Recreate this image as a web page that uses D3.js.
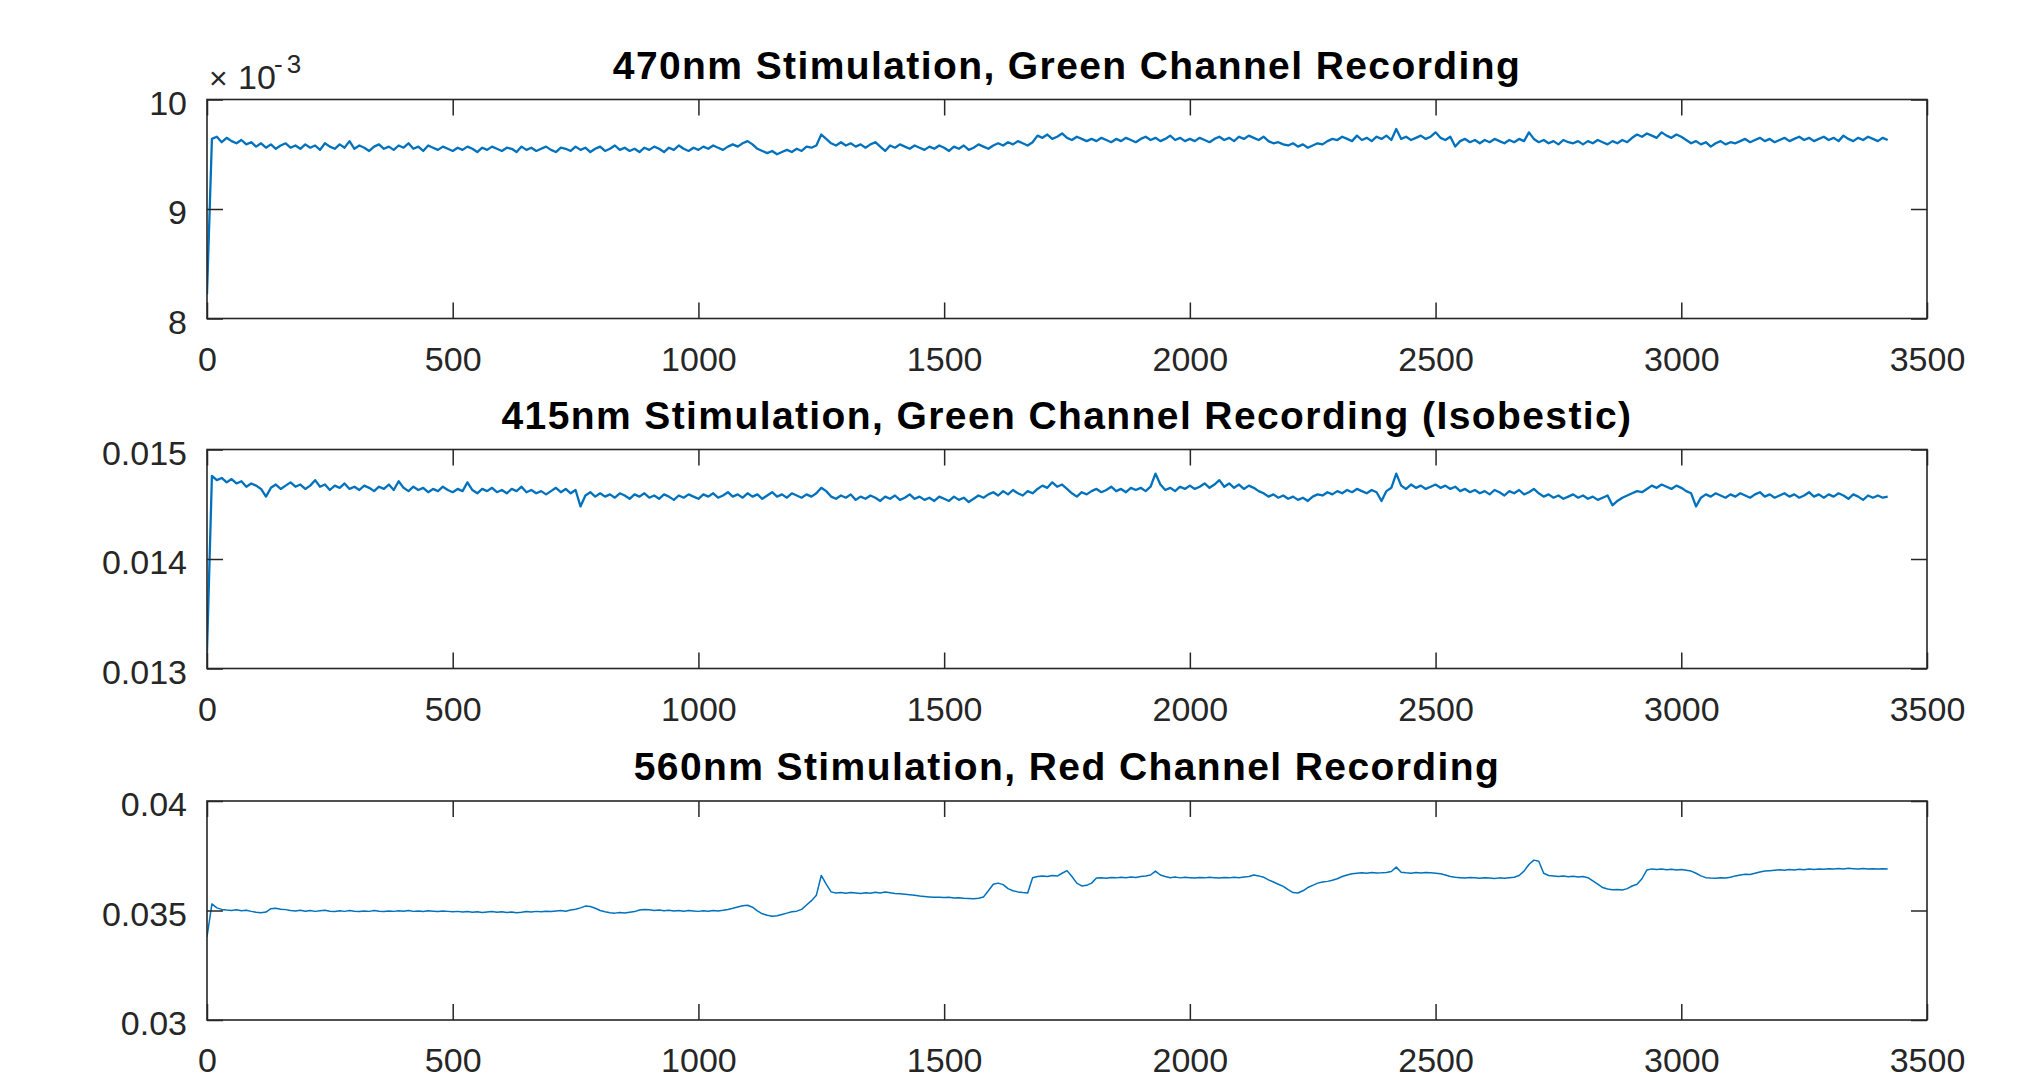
<!DOCTYPE html>
<html>
<head>
<meta charset="utf-8">
<script src="https://cdn.jsdelivr.net/npm/d3@7"></script>
<style>
html, body { margin: 0; padding: 0; background: #ffffff; }
svg { display: block; }
</style>
</head>
<body>
<svg id="chart" width="2040" height="1073"></svg>
<script>
// ---------- data ----------
const titles = [
  "470nm Stimulation, Green Channel Recording",
  "415nm Stimulation, Green Channel Recording (Isobestic)",
  "560nm Stimulation, Red Channel Recording"
];
const xTicks = [0, 500, 1000, 1500, 2000, 2500, 3000, 3500];
const xTickLabels = ["0", "500", "1000", "1500", "2000", "2500", "3000", "3500"];
// y values below are all in units of 10^-3
const yDomain470 = [8, 10];
const yTicks470 = [8, 9, 10];
const yTickLabels470 = ["8", "9", "10"];
const yDomain415 = [13, 15];
const yTicks415 = [13, 14, 15];
const yTickLabels415 = ["0.013", "0.014", "0.015"];
const yDomain560 = [30, 40];
const yTicks560 = [30, 35, 40];
const yTickLabels560 = ["0.03", "0.035", "0.04"];
const exponentLabel = ["\u00d7", "10", "-3"];
const sampleStep = 10; // time between samples

const green470 = [
8.22,9.64,9.66,9.61,9.65,9.62,9.60,9.63,9.59,9.61,
9.57,9.60,9.56,9.59,9.55,9.58,9.60,9.56,9.58,9.55,
9.59,9.56,9.58,9.54,9.60,9.57,9.55,9.59,9.56,9.62,
9.55,9.58,9.56,9.53,9.57,9.59,9.55,9.57,9.54,9.58,
9.56,9.60,9.55,9.57,9.53,9.58,9.56,9.54,9.57,9.55,
9.53,9.56,9.54,9.57,9.55,9.52,9.56,9.54,9.57,9.55,
9.53,9.56,9.55,9.52,9.57,9.54,9.56,9.53,9.55,9.57,
9.54,9.52,9.56,9.55,9.53,9.57,9.54,9.56,9.52,9.55,
9.57,9.53,9.55,9.58,9.54,9.56,9.53,9.55,9.52,9.56,
9.54,9.57,9.55,9.52,9.56,9.54,9.58,9.55,9.53,9.56,
9.54,9.57,9.55,9.58,9.56,9.54,9.57,9.59,9.57,9.60,
9.62,9.59,9.55,9.53,9.51,9.53,9.50,9.52,9.54,9.52,
9.55,9.53,9.57,9.56,9.58,9.68,9.64,9.60,9.58,9.61,
9.58,9.60,9.57,9.59,9.56,9.59,9.61,9.57,9.53,9.58,
9.56,9.59,9.57,9.55,9.58,9.56,9.54,9.57,9.55,9.58,
9.56,9.53,9.57,9.55,9.58,9.54,9.56,9.59,9.57,9.55,
9.58,9.60,9.58,9.61,9.59,9.62,9.60,9.58,9.61,9.67,
9.65,9.68,9.64,9.66,9.69,9.65,9.63,9.66,9.64,9.62,
9.64,9.62,9.65,9.63,9.61,9.64,9.62,9.65,9.63,9.61,
9.64,9.66,9.63,9.65,9.62,9.64,9.67,9.63,9.65,9.62,
9.64,9.62,9.65,9.63,9.61,9.64,9.66,9.63,9.65,9.62,
9.66,9.64,9.67,9.65,9.63,9.66,9.62,9.60,9.61,9.59,
9.58,9.60,9.57,9.59,9.56,9.58,9.60,9.59,9.62,9.64,
9.63,9.66,9.64,9.62,9.67,9.63,9.65,9.62,9.66,9.64,
9.67,9.63,9.73,9.64,9.66,9.63,9.65,9.67,9.64,9.66,
9.70,9.65,9.63,9.66,9.57,9.62,9.64,9.61,9.63,9.60,
9.63,9.61,9.64,9.62,9.60,9.63,9.61,9.64,9.62,9.70,
9.64,9.61,9.63,9.60,9.62,9.59,9.63,9.61,9.60,9.62,
9.59,9.62,9.60,9.63,9.61,9.59,9.62,9.60,9.63,9.61,
9.65,9.68,9.66,9.69,9.67,9.65,9.70,9.67,9.65,9.68,
9.66,9.63,9.60,9.62,9.59,9.61,9.57,9.60,9.62,9.59,
9.61,9.60,9.62,9.64,9.61,9.63,9.65,9.62,9.64,9.61,
9.63,9.65,9.62,9.64,9.66,9.63,9.65,9.62,9.64,9.66,
9.63,9.65,9.62,9.67,9.64,9.62,9.65,9.63,9.66,9.64,
9.62,9.65,9.63
];

const green415 = [
13.15,14.76,14.72,14.74,14.70,14.73,14.69,14.71,14.66,14.69,
14.67,14.64,14.57,14.65,14.68,14.64,14.67,14.70,14.66,14.68,
14.64,14.67,14.72,14.66,14.68,14.63,14.67,14.65,14.69,14.64,
14.66,14.63,14.67,14.65,14.62,14.66,14.64,14.68,14.63,14.71,
14.65,14.62,14.66,14.63,14.65,14.61,14.64,14.62,14.66,14.63,
14.61,14.64,14.62,14.70,14.63,14.60,14.64,14.62,14.65,14.61,
14.63,14.60,14.64,14.62,14.66,14.61,14.63,14.60,14.62,14.59,
14.62,14.65,14.61,14.64,14.60,14.63,14.48,14.58,14.61,14.57,
14.60,14.57,14.59,14.56,14.60,14.58,14.55,14.59,14.57,14.60,
14.56,14.58,14.55,14.59,14.57,14.54,14.58,14.56,14.59,14.57,
14.55,14.59,14.57,14.60,14.56,14.58,14.61,14.57,14.59,14.56,
14.60,14.57,14.59,14.55,14.58,14.61,14.57,14.59,14.56,14.60,
14.58,14.56,14.59,14.57,14.60,14.65,14.62,14.57,14.55,14.58,
14.56,14.59,14.54,14.57,14.55,14.58,14.56,14.53,14.57,14.55,
14.58,14.54,14.56,14.59,14.55,14.57,14.54,14.56,14.53,14.57,
14.55,14.53,14.57,14.54,14.56,14.52,14.55,14.58,14.56,14.59,
14.61,14.58,14.62,14.59,14.63,14.60,14.58,14.62,14.60,14.64,
14.67,14.65,14.70,14.66,14.68,14.64,14.60,14.57,14.61,14.59,
14.62,14.64,14.61,14.63,14.66,14.62,14.64,14.61,14.65,14.63,
14.65,14.62,14.66,14.78,14.68,14.63,14.65,14.62,14.66,14.64,
14.67,14.64,14.66,14.69,14.65,14.68,14.72,14.66,14.69,14.65,
14.68,14.64,14.67,14.65,14.62,14.60,14.57,14.59,14.56,14.58,
14.55,14.57,14.54,14.56,14.53,14.57,14.59,14.58,14.61,14.59,
14.62,14.60,14.63,14.61,14.64,14.62,14.60,14.63,14.61,14.53,
14.62,14.65,14.78,14.67,14.64,14.68,14.65,14.67,14.64,14.66,
14.68,14.65,14.67,14.64,14.66,14.62,14.64,14.61,14.63,14.60,
14.62,14.59,14.63,14.61,14.58,14.62,14.60,14.63,14.59,14.61,
14.64,14.60,14.57,14.59,14.56,14.58,14.55,14.57,14.59,14.56,
14.58,14.55,14.57,14.54,14.56,14.58,14.49,14.53,14.56,14.58,
14.60,14.62,14.61,14.64,14.67,14.65,14.68,14.66,14.64,14.67,
14.65,14.62,14.60,14.48,14.56,14.59,14.57,14.60,14.58,14.56,
14.59,14.57,14.60,14.58,14.56,14.59,14.61,14.57,14.59,14.56,
14.58,14.60,14.57,14.59,14.56,14.58,14.61,14.57,14.59,14.56,
14.59,14.57,14.60,14.58,14.55,14.59,14.57,14.54,14.58,14.56,
14.58,14.56,14.57
];

const red560 = [
33.80,35.30,35.12,35.05,35.02,35.00,35.03,34.99,35.01,34.96,
34.92,34.90,34.93,35.08,35.10,35.06,35.04,35.00,34.98,35.01,
34.97,35.00,34.96,34.99,35.01,34.97,34.95,34.99,34.96,35.00,
34.97,34.95,34.98,34.96,35.00,34.97,34.95,34.98,34.96,34.99,
34.97,35.00,34.96,34.98,34.95,34.99,34.97,34.95,34.98,34.96,
34.94,34.96,34.93,34.95,34.92,34.94,34.91,34.93,34.95,34.92,
34.94,34.91,34.93,34.90,34.92,34.95,34.93,34.96,34.94,34.97,
34.95,34.98,35.00,34.97,35.02,35.06,35.12,35.20,35.18,35.10,
35.00,34.94,34.90,34.88,34.91,34.89,34.92,34.95,35.02,35.05,
35.03,35.00,35.02,34.99,35.01,34.98,35.00,34.97,35.00,34.98,
34.96,34.99,34.97,35.00,34.98,35.01,35.05,35.10,35.16,35.22,
35.24,35.15,34.98,34.85,34.78,34.74,34.76,34.82,34.88,34.94,
34.97,35.05,35.25,35.45,35.70,36.60,36.20,35.85,35.80,35.82,
35.79,35.82,35.80,35.78,35.81,35.79,35.83,35.80,35.84,35.81,
35.78,35.76,35.74,35.72,35.70,35.66,35.64,35.62,35.60,35.61,
35.59,35.60,35.57,35.58,35.56,35.55,35.54,35.56,35.62,35.90,
36.20,36.25,36.18,36.00,35.90,35.85,35.82,35.80,36.50,36.55,
36.58,36.55,36.60,36.57,36.70,36.82,36.55,36.25,36.12,36.15,
36.25,36.48,36.50,36.47,36.51,36.49,36.52,36.50,36.53,36.51,
36.55,36.58,36.62,36.80,36.62,36.55,36.50,36.53,36.49,36.52,
36.50,36.48,36.51,36.49,36.52,36.50,36.48,36.51,36.49,36.52,
36.50,36.53,36.55,36.62,36.58,36.52,36.40,36.30,36.20,36.10,
35.95,35.82,35.80,35.90,36.05,36.15,36.25,36.30,36.33,36.38,
36.45,36.55,36.62,36.68,36.70,36.72,36.70,36.73,36.71,36.72,
36.74,36.78,36.98,36.75,36.72,36.70,36.73,36.71,36.74,36.72,
36.70,36.68,36.62,36.55,36.52,36.50,36.48,36.51,36.49,36.47,
36.50,36.48,36.46,36.49,36.47,36.50,36.52,36.60,36.80,37.10,
37.30,37.25,36.70,36.60,36.58,36.55,36.57,36.54,36.56,36.53,
36.55,36.50,36.35,36.20,36.05,35.98,35.95,35.96,35.94,36.00,
36.12,36.20,36.45,36.85,36.90,36.87,36.89,36.86,36.88,36.85,
36.87,36.84,36.80,36.70,36.58,36.50,36.48,36.47,36.50,36.48,
36.52,36.58,36.62,36.66,36.64,36.70,36.76,36.80,36.82,36.84,
36.86,36.84,36.87,36.85,36.88,36.86,36.89,36.87,36.90,36.88,
36.91,36.89,36.92,36.90,36.93,36.91,36.89,36.92,36.90,36.91,
36.89,36.91,36.90
];

// ---------- layout ----------
const W = 2040, H = 1073;
const plotLeft = 207, plotRight = 1927;
const panelTops = [99.5, 449.5, 801];
const panelH = 219;
const axisColor = "#262626";
const lineColor = "#0072BD";
const tickLen = 16;
const fontFamily = "'Liberation Sans', Arial, Helvetica, sans-serif";

const svg = d3.select("#chart");
svg.append("rect").attr("width", W).attr("height", H).attr("fill", "#ffffff");

const x = d3.scaleLinear().domain([0, 3500]).range([plotLeft, plotRight]);

const panels = [
  { title: titles[0], data: green470, domain: yDomain470, ticks: yTicks470, labels: yTickLabels470, exponent: true, width: 2.3 },
  { title: titles[1], data: green415, domain: yDomain415, ticks: yTicks415, labels: yTickLabels415, exponent: false, width: 2.3 },
  { title: titles[2], data: red560, domain: yDomain560, ticks: yTicks560, labels: yTickLabels560, exponent: false, width: 1.5 }
];

panels.forEach((p, k) => {
  const top = panelTops[k];
  const bottom = top + panelH;
  const y = d3.scaleLinear().domain(p.domain).range([bottom, top]);
  const g = svg.append("g");

  // data line
  const clipId = "clip" + k;
  svg.append("clipPath").attr("id", clipId)
    .append("rect").attr("x", plotLeft).attr("y", top).attr("width", plotRight - plotLeft).attr("height", panelH);
  const line = d3.line()
    .x((d, i) => x(i * sampleStep))
    .y(d => y(d));
  g.append("path")
    .datum(p.data)
    .attr("d", line)
    .attr("fill", "none")
    .attr("stroke", lineColor)
    .attr("stroke-width", p.width)
    .attr("stroke-linejoin", "round")
    .attr("clip-path", "url(#" + clipId + ")");

  // bottom axis (ticks inward, labels below)
  const xAxisB = d3.axisBottom(x).tickValues(xTicks).tickSizeInner(-tickLen).tickSizeOuter(0)
    .tickFormat((d, i) => xTickLabels[i]).tickPadding(28);
  const gxb = g.append("g").attr("transform", `translate(0,${bottom})`).call(xAxisB);
  // top axis ticks (mirrored)
  const xAxisT = d3.axisTop(x).tickValues(xTicks).tickSizeInner(-tickLen).tickSizeOuter(0).tickFormat("");
  const gxt = g.append("g").attr("transform", `translate(0,${top})`).call(xAxisT);
  // left axis
  const yAxisL = d3.axisLeft(y).tickValues(p.ticks).tickSizeInner(-tickLen).tickSizeOuter(0)
    .tickFormat((d, i) => p.labels[i]).tickPadding(20);
  const gyl = g.append("g").attr("transform", `translate(${plotLeft},0)`).call(yAxisL);
  // right axis ticks (mirrored)
  const yAxisR = d3.axisRight(y).tickValues(p.ticks).tickSizeInner(-tickLen).tickSizeOuter(0).tickFormat("");
  const gyr = g.append("g").attr("transform", `translate(${plotRight},0)`).call(yAxisR);

  [gxb, gxt, gyl, gyr].forEach(a => {
    a.select(".domain").remove();
    a.selectAll(".tick line").attr("stroke", axisColor).attr("stroke-width", 1.5);
    a.selectAll(".tick text")
      .attr("fill", axisColor)
      .style("font-family", fontFamily)
      .style("font-size", "34px");
  });
  gxb.selectAll(".tick text").attr("dy", "0.71em").attr("y", 28);
  gyl.selectAll(".tick text").attr("dy", "0.38em").attr("y", 2);

  // box
  g.append("rect")
    .attr("x", plotLeft).attr("y", top)
    .attr("width", plotRight - plotLeft).attr("height", panelH)
    .attr("fill", "none").attr("stroke", axisColor).attr("stroke-width", 1.6);

  // title
  g.append("text")
    .attr("x", (plotLeft + plotRight) / 2)
    .attr("y", top - 21)
    .attr("text-anchor", "middle")
    .style("font-family", fontFamily)
    .style("font-weight", "bold")
    .style("font-size", "39px")
    .style("letter-spacing", "1.4px")
    .attr("fill", "#000000")
    .text(p.title);

  // exponent label
  if (p.exponent) {
    const eg = g.append("g").attr("fill", axisColor).style("font-family", fontFamily);
    eg.append("text").attr("x", 209).attr("y", top - 11).style("font-size", "32px").text(exponentLabel[0]);
    eg.append("text").attr("x", 238).attr("y", top - 11).style("font-size", "34px").text(exponentLabel[1]);
    eg.append("text").attr("x", 274).attr("y", top - 27).style("font-size", "26px").style("letter-spacing", "4px").text(exponentLabel[2]);
  }
});
</script>
</body>
</html>
